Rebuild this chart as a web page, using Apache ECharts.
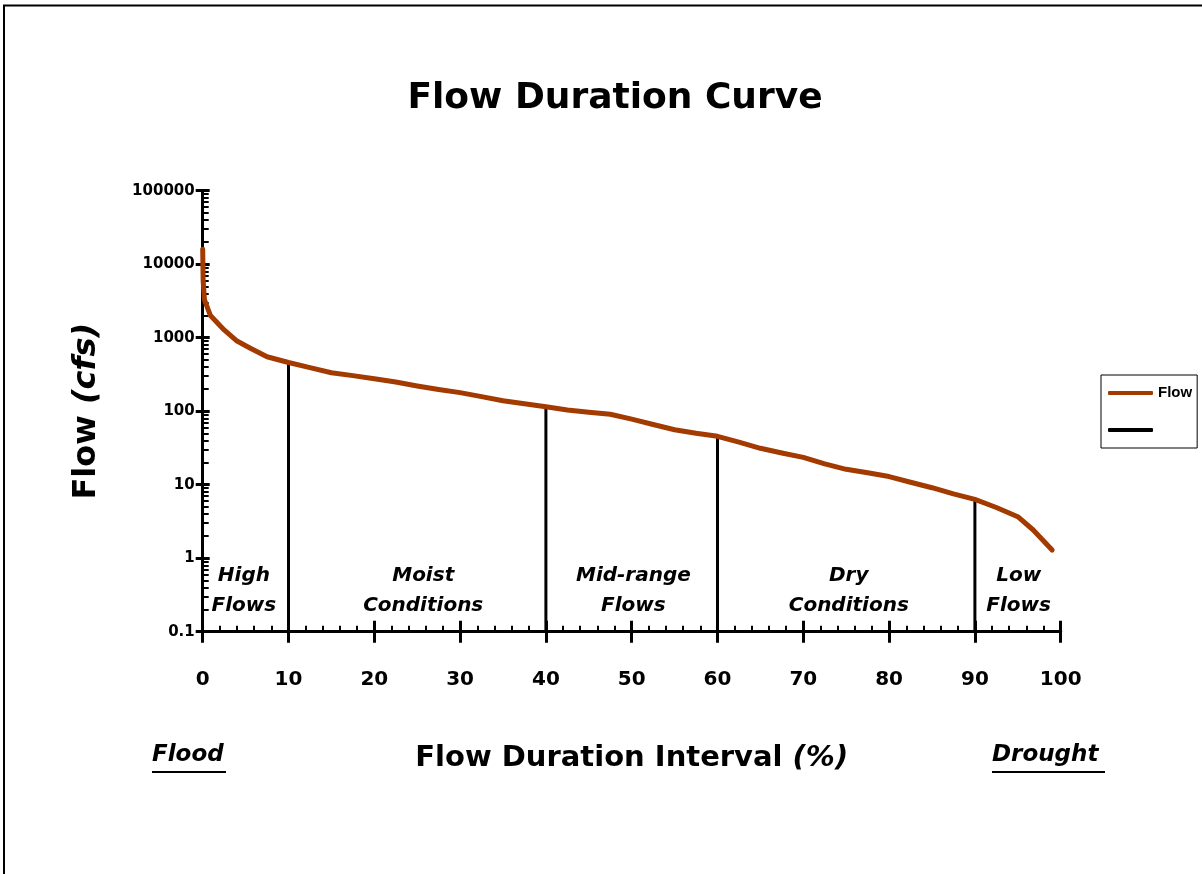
<!DOCTYPE html>
<html>
<head>
<meta charset="utf-8">
<script src="https://cdn.jsdelivr.net/npm/echarts@6/dist/echarts.min.js"></script>
<style>html,body{margin:0;padding:0;background:#fff}#c{width:1202px;height:874px}</style>
</head>
<body>
<div id="c"></div>
<script>
// ---- data ----
const flowPct = [0,0.05,0.2,0.9,2.5,4,5.5,7.5,10,12.5,15,17.5,20,22.5,25,27.5,30,32.5,35,37.5,40,42.5,45,47.5,50,52.5,55,57.5,60,62.5,65,67.5,70,72.5,75,77.5,80,82.5,85,87.5,90,92.5,95,96.8,99];
const flowCfs = [16000,6000,3300,2000,1276,900,726,550,460,391,334,305,277,249,220,197,179,158,139,126,115,104,97,91,78,66,56,50,45.5,38,31.3,27,23.5,19.2,16.2,14.5,12.9,10.8,9.1,7.5,6.3,4.9,3.67,2.42,1.29];
const dividerPct = [10,40,60,90];
const dividerTop = [470,118,46,6.4];
const regionNames = ['High\nFlows','Moist\nConditions','Mid-range\nFlows','Dry\nConditions','Low\nFlows'];
const regionPct = [4.8,25.7,50.2,75.3,95.1];
const regionY = 0.363;
const yMin = 0.1, yMax = 100000;
const xMin = 0, xMax = 100, xStep = 10;

const FF = 'DejaVu Sans';
const flowData = flowPct.map((p,i)=>[p, flowCfs[i]]);
const dividerData = [];
dividerPct.forEach((p,i)=>{
  dividerData.push([p, yMin]); dividerData.push([p, dividerTop[i]]);
  if (i < dividerPct.length-1) dividerData.push([p, '-']);
});
const regionData = regionPct.map((p,i)=>[p, regionY, regionNames[i]]);

const chart = echarts.init(document.getElementById('c'));
const grid = {left: 202.7, right: 1202-1060.7, top: 190.7, bottom: 874-631.7, containLabel:false};
const blackLine = {color:'#000', width:3};
chart.setOption({
  animation:false,
  backgroundColor:'#fff',
  title:{text:'Flow Duration Curve', left:610, top:76, textAlign:'center',
    textStyle:{fontFamily:FF, fontWeight:'bold', fontSize:36, color:'#000'}},
  legend:{orient:'vertical', left:1101, top:375,
    data:[{name:'Flow', icon:'roundRect'}, {name:' ', icon:'roundRect'}],
    itemWidth:45, itemHeight:4, itemGap:21, padding:[10,5,10,7],
    borderColor:'#000', borderWidth:1, borderRadius:0,
    textStyle:{fontFamily:'Liberation Sans', fontWeight:'bold', fontSize:15, lineHeight:16, color:'#000'}},
  grid: grid,
  xAxis:[
    {type:'value', min:xMin, max:xMax, interval:xStep,
     name:'{a|Flow Duration Interval }{b|(%)}', nameLocation:'middle', nameGap:112,
     nameTextStyle:{rich:{a:{fontFamily:FF,fontWeight:'bold',fontSize:29,color:'#000'},
                          b:{fontFamily:FF,fontWeight:'bold',fontStyle:'italic',fontSize:29,color:'#000'}}},
     axisLine:{lineStyle:blackLine}, axisTick:{length:11, lineStyle:{color:'#000',width:3}},
     axisLabel:{margin:38, fontFamily:FF, fontWeight:'bold', fontSize:20, color:'#000'},
     splitLine:{show:false}},
    {type:'value', min:xMin, max:xMax, interval:xStep, position:'bottom', offset:0,
     axisLine:{show:false}, axisTick:{inside:true, length:11, lineStyle:{color:'#000',width:3}},
     minorTick:{show:true, splitNumber:5, length:6, lineStyle:{color:'#000',width:2}},
     axisLabel:{show:false}, splitLine:{show:false}}
  ],
  yAxis:[
    {type:'log', logBase:10, min:yMin, max:yMax,
     name:'{a|Flow }{b|(cfs)}', nameLocation:'middle', nameGap:100, nameRotate:90,
     nameTextStyle:{rich:{a:{fontFamily:FF,fontWeight:'bold',fontSize:32,color:'#000'},
                          b:{fontFamily:FF,fontWeight:'bold',fontStyle:'italic',fontSize:32,color:'#000'}}},
     axisLine:{lineStyle:blackLine}, axisTick:{length:7, lineStyle:{color:'#000',width:3}},
     axisLabel:{margin:8, fontFamily:FF, fontWeight:'bold', fontSize:15, color:'#000',
       formatter:v=>String(Number(v.toPrecision(6)))},
     splitLine:{show:false}},
    {type:'log', logBase:10, min:yMin, max:yMax, position:'left', offset:0,
     axisLine:{show:false}, axisTick:{inside:true, length:7, lineStyle:{color:'#000',width:3}},
     minorTick:{show:true, splitNumber:9, length:6, lineStyle:{color:'#000',width:2}},
     axisLabel:{show:false}, splitLine:{show:false}}
  ],
  series:[
    {name:' ', type:'line', xAxisIndex:0, yAxisIndex:0, data:dividerData, symbol:'none',
     connectNulls:false, lineStyle:{color:'#000', width:3}, itemStyle:{color:'#000'}, z:3},
    {name:'Flow', type:'line', xAxisIndex:0, yAxisIndex:0, data:flowData, symbol:'none',
     lineStyle:{color:'#A33A00', width:5, cap:'round', join:'round'}, itemStyle:{color:'#A33A00'}, z:4},
    {name:'regions', type:'scatter', xAxisIndex:0, yAxisIndex:0, data:regionData, symbolSize:0, silent:true,
     itemStyle:{opacity:1},
     label:{show:true, position:'inside', formatter:p=>p.data[2], fontFamily:FF, fontWeight:'bold',
       fontStyle:'italic', fontSize:20, lineHeight:30, color:'#000', opacity:1, align:'center'}, z:5}
  ],
  graphic:[
    {type:'polyline', shape:{points:[[4,874],[4,5.5],[1202,5.5]]}, style:{stroke:'#000', lineWidth:2, fill:null}},
    {type:'text', left:152, top:744, style:{text:'Flood', fontFamily:FF, fontWeight:'bold', fontStyle:'italic', fontSize:23, fill:'#000'}},
    {type:'rect', shape:{x:152, y:771, width:74, height:2}, style:{fill:'#000'}},
    {type:'text', left:992, top:744, style:{text:'Drought', fontFamily:FF, fontWeight:'bold', fontStyle:'italic', fontSize:23, fill:'#000'}},
    {type:'rect', shape:{x:992, y:771, width:113, height:2}, style:{fill:'#000'}}
  ]
});
</script>
</body>
</html>
